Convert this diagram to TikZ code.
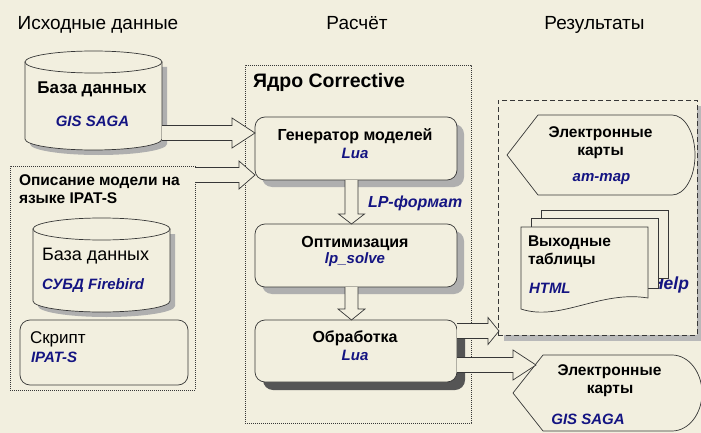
\documentclass[tikz,border=0pt]{standalone}
\usepackage{fontspec}
\setmainfont{Liberation Sans}
\usetikzlibrary{calc,shadows}
\definecolor{bgc}{RGB}{242,239,223}
\definecolor{linec}{RGB}{55,55,55}
\definecolor{bluet}{RGB}{20,20,130}
\definecolor{shadowl}{RGB}{175,175,175}
\definecolor{shadowd}{RGB}{85,85,85}
\tikzset{
  every node/.style={inner sep=0pt, outer sep=0pt},
  shapeline/.style={draw=linec, line width=0.7pt, fill=bgc},
  procbox/.style={shapeline, rounded corners=10pt, minimum width=202pt, minimum height=63pt},
  blockarr/.style={draw=linec, line width=0.7pt, fill=bgc, line join=miter},
  dotbox/.style={draw=linec, line width=0.6pt, dash pattern=on 0.7pt off 1.3pt},
  dashbox/.style={draw=linec, line width=0.7pt, dash pattern=on 5pt off 3pt, fill=bgc},
  ghost/.style={draw=none, fill=none},
  titletext/.style={font=\fontsize{19}{22}\selectfont, anchor=base},
  btext/.style={font=\fontsize{15.5}{18}\selectfont\bfseries, anchor=base},
  rtext/.style={font=\fontsize{17}{20}\selectfont, anchor=base},
  bluetext/.style={font=\fontsize{15}{18}\selectfont\bfseries\itshape, text=bluet, anchor=base},
}
% horizontal block arrow: #1 start, #2 tip, #3 shaft half, #4 head half, #5 head length
\newcommand\harrow[5]{%
  \filldraw[blockarr] let \p1=(#1), \p2=(#2) in
   (\x1,\y2+#3pt) -- (\x2-#5pt,\y2+#3pt) -- (\x2-#5pt,\y2+#4pt) -- (\x2,\y2)
   -- (\x2-#5pt,\y2-#4pt) -- (\x2-#5pt,\y2-#3pt) -- (\x1,\y2-#3pt);}
% vertical (downward) block arrow
\newcommand\varrow[5]{%
  \filldraw[blockarr] let \p1=(#1), \p2=(#2) in
   (\x2-#3pt,\y1) -- (\x2-#3pt,\y2+#5pt) -- (\x2-#4pt,\y2+#5pt) -- (\x2,\y2)
   -- (\x2+#4pt,\y2+#5pt) -- (\x2+#3pt,\y2+#5pt) -- (\x2+#3pt,\y1);}
\newcommand\cylAbody{(25,62) -- (25,139) .. controls (25,145.08) and (55.67,150) .. (93.5,150) .. controls (131.33,150) and (162,145.08) .. (162,139) -- (162,62) -- cycle}
\newcommand\cylBbody{(33,229) -- (33,301) .. controls (33,307.08) and (63.67,312) .. (101.5,312) .. controls (139.33,312) and (170,307.08) .. (170,301) -- (170,229) -- cycle}
\begin{document}
\begin{tikzpicture}[x=1pt,y=-1pt]
\fill[bgc] (0,0) rectangle (701,433);
\useasboundingbox (0,0) rectangle (701,433);

% titles
\node[titletext] (t1) at (98,30) {Исходные данные};
\node[titletext] (t2) at (357,30) {Расчёт};
\node[titletext] (t3) at (594.5,30) {Результаты};

% cylinder 1
\fill[shadowl, shift={(5,5)}] \cylAbody;
\filldraw[shapeline] \cylAbody;
\filldraw[shapeline] (93.5,62) ellipse [x radius=68.5, y radius=11];
\node[ghost, minimum width=137pt, minimum height=100pt] (db1) at (93.5,100.5) {};
\node[btext, font=\fontsize{17}{20}\selectfont\bfseries] (db1a) at (92,94) {База данных};
\node[bluetext] (db1b) at (92.5,127) {GIS SAGA};

% description box
\node[dotbox, minimum width=185pt, minimum height=224pt] (desc) at (102.5,278) {};
\node[btext, anchor=base west] (desca) at (19,185) {Описание модели на};
\node[btext, anchor=base west] (descb) at (19,203) {языке IPAT-S};

% cylinder 2
\fill[shadowl, shift={(5,5)}] \cylBbody;
\filldraw[shapeline] \cylBbody;
\filldraw[shapeline] (101.5,229) ellipse [x radius=68.5, y radius=11];
\node[ghost, minimum width=137pt, minimum height=94pt] (db2) at (101.5,265) {};
\node[rtext, anchor=base west, font=\fontsize{18}{21}\selectfont] (db2a) at (42,260) {База данных};
\node[bluetext, anchor=base west] (db2b) at (42,289) {СУБД Firebird};

% script box
\node[shapeline, rounded corners=10pt, minimum width=168pt, minimum height=65pt] (scr) at (104,352.5) {};
\node[rtext, anchor=base west] (scra) at (30,343) {Скрипт};
\node[bluetext, anchor=base west] (scrb) at (31,362) {IPAT-S};

% core box
\node[dotbox, minimum width=226pt, minimum height=358pt] (core) at (358,244) {};
\node[btext, anchor=base west, font=\fontsize{19.5}{22}\selectfont\bfseries] (corea) at (253,88) {Ядро Corrective};

\node[procbox, drop shadow={shadow xshift=7pt, shadow yshift=-7pt, fill=shadowl, opacity=1}] (gen) at (356,148.5) {};
\node[procbox, drop shadow={shadow xshift=7pt, shadow yshift=-7pt, fill=shadowl, opacity=1}] (opt) at (356,255.5) {};
\node[procbox, minimum height=62pt, drop shadow={shadow xshift=8pt, shadow yshift=-8pt, fill=shadowd, opacity=1}] (proc) at (356,351) {};

\node[btext, font=\fontsize{16}{19}\selectfont\bfseries] (gena) at (355,141) {Генератор моделей};
\node[bluetext] (genb) at (355,158) {Lua};
\node[btext, font=\fontsize{16}{19}\selectfont\bfseries] (opta) at (355,247) {Оптимизация};
\node[bluetext] (optb) at (355,263) {lp\_solve};
\node[btext, font=\fontsize{16}{19}\selectfont\bfseries] (proca) at (355,342) {Обработка};
\node[bluetext] (procb) at (355,360) {Lua};
\node[bluetext, anchor=base west, font=\fontsize{16}{19}\selectfont\bfseries\itshape] (lp) at (368,207) {LP-формат};

% results box
\node[dashbox, minimum width=199pt, minimum height=235pt, drop shadow={shadow xshift=6pt, shadow yshift=-6pt, fill={rgb,255:red,185;green,185;blue,185}, opacity=1}] (res) at (597.5,217.5) {};

% display 1
\filldraw[shapeline] (538,115) -- (672,115) .. controls (684.7,115) and (695,132.9) .. (695,155) .. controls (695,177.1) and (684.7,195) .. (672,195) -- (538,195) -- (507,155) -- cycle;
\node[ghost, minimum width=188pt, minimum height=80pt] (disp1) at (601,155) {};
\node[btext] (disp1a) at (600.5,137) {Электронные};
\node[btext] (disp1b) at (600.5,155) {карты};
\node[bluetext] (disp1c) at (601.5,181) {am-map};

% documents
\node[bluetext, anchor=base east, font=\fontsize{17.5}{20}\selectfont\bfseries\itshape] (help) at (689,289) {Help};
\filldraw[shapeline] (541,210) rectangle (668,278);
\filldraw[shapeline] (531,218) rectangle (658,288);
\filldraw[shapeline] (521,227) -- (648,227) -- (648,298) .. controls (600,290) and (560,322) .. (521,309) -- cycle;
\node[ghost, minimum width=147pt, minimum height=100pt] (doc) at (594.5,262) {};
\node[btext, anchor=base west] (doca) at (528,246) {Выходные};
\node[btext, anchor=base west] (docb) at (528,264) {таблицы};
\node[bluetext, anchor=base west] (docc) at (529,293) {HTML};

% display 2
\filldraw[shapeline] (543,355) -- (672,355) .. controls (688.57,355) and (702,372.01) .. (702,393) .. controls (702,413.99) and (688.57,431) .. (672,431) -- (543,431) -- (513,393) -- cycle;
\node[ghost, minimum width=189pt, minimum height=76pt] (disp2) at (607.5,393) {};
\node[btext] (disp2a) at (609.5,375) {Электронные};
\node[btext] (disp2b) at (610,393) {карты};
\node[bluetext] (disp2c) at (588,424) {GIS SAGA};

% block arrows
\coordinate (tip1) at ($(gen.west)+(0,-15.5)$);
\harrow{db1.east}{tip1}{7.5}{15}{23}
\coordinate (tip2) at ($(gen.west)+(0,26.5)$);
\harrow{desc.east}{tip2}{7.5}{14}{16}
\coordinate (tipA) at ($(opt.north)+(-4.5,0)$);
\varrow{gen.south}{tipA}{6.5}{13}{10}
\coordinate (tipB) at ($(proc.north)+(-4.5,0)$);
\varrow{opt.south}{tipB}{6.5}{13.5}{11}
\coordinate (tip3) at ($(proc.east -| res.west)+(1,-20)$);
\harrow{proc.east}{tip3}{7.5}{13.5}{11}
\coordinate (tip4) at ($(proc.east -| disp2.west)+(23,14)$);
\harrow{proc.east}{tip4}{7.5}{15}{23}
\end{tikzpicture}
\end{document}
